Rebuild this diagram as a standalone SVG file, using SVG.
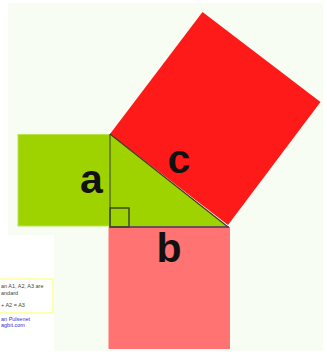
<svg xmlns="http://www.w3.org/2000/svg" width="327" height="360" viewBox="0 0 327 360">
<style>
.lbl{font-family:"Liberation Sans",Arial,sans-serif;font-weight:bold;font-size:41px;fill:#111;text-anchor:middle}
.note{font-family:"Liberation Sans",Arial,sans-serif;font-size:5.5px;fill:#444}
.link{font-family:"Liberation Sans",Arial,sans-serif;font-size:5.5px;fill:#3333cc}
</style>
<rect x="0" y="0" width="327" height="360" fill="#ffffff"/>
<path d="M8,3 H323 V351 H54 V235 H8 Z" fill="#f7fdf2"/>
<g id="square-a">
<rect x="18" y="134.5" width="92" height="91.5" fill="#9fd300" stroke="#b8e450" stroke-width="1"/>
</g>
<g id="square-c">
<polygon points="110,134 202.5,12 320.5,102 228,225" fill="#ff1a1a"/>
</g>
<g id="square-b">
<rect x="108.5" y="227" width="121.5" height="122" fill="#ff7373"/>
</g>
<g id="triangle">
<polygon points="110,134 110,227 228,227" fill="#9fd300"/>
<line x1="110" y1="134" x2="110" y2="227" stroke="#4c5e20" stroke-width="1.3"/>
<line x1="110" y1="134" x2="228" y2="227" stroke="#3a3a20" stroke-width="1.2"/>
<line x1="110" y1="227" x2="229" y2="227" stroke="#5a2a70" stroke-width="1.5"/>
<rect x="110" y="208" width="19" height="19" fill="none" stroke="#3d4a20" stroke-width="1.5"/>
</g>
<g id="labels">
<text class="lbl" x="91.5" y="193">a</text>
<text class="lbl" x="179" y="173">c</text>
<text class="lbl" x="169" y="262">b</text>
</g>
<g id="note">
<rect x="-10" y="279" width="63" height="34" fill="#ffffff" stroke="#ffff99" stroke-width="1.5"/>
<text class="note" x="1" y="288">an A1, A2, A3 are</text>
<text class="note" x="1" y="295">andard</text>
<text class="note" x="1" y="307">+ A2 = A3</text>
<text class="link" x="1" y="321">an Pulsenet</text>
<text class="link" x="1" y="327">agbit.com</text>
</g>
</svg>
